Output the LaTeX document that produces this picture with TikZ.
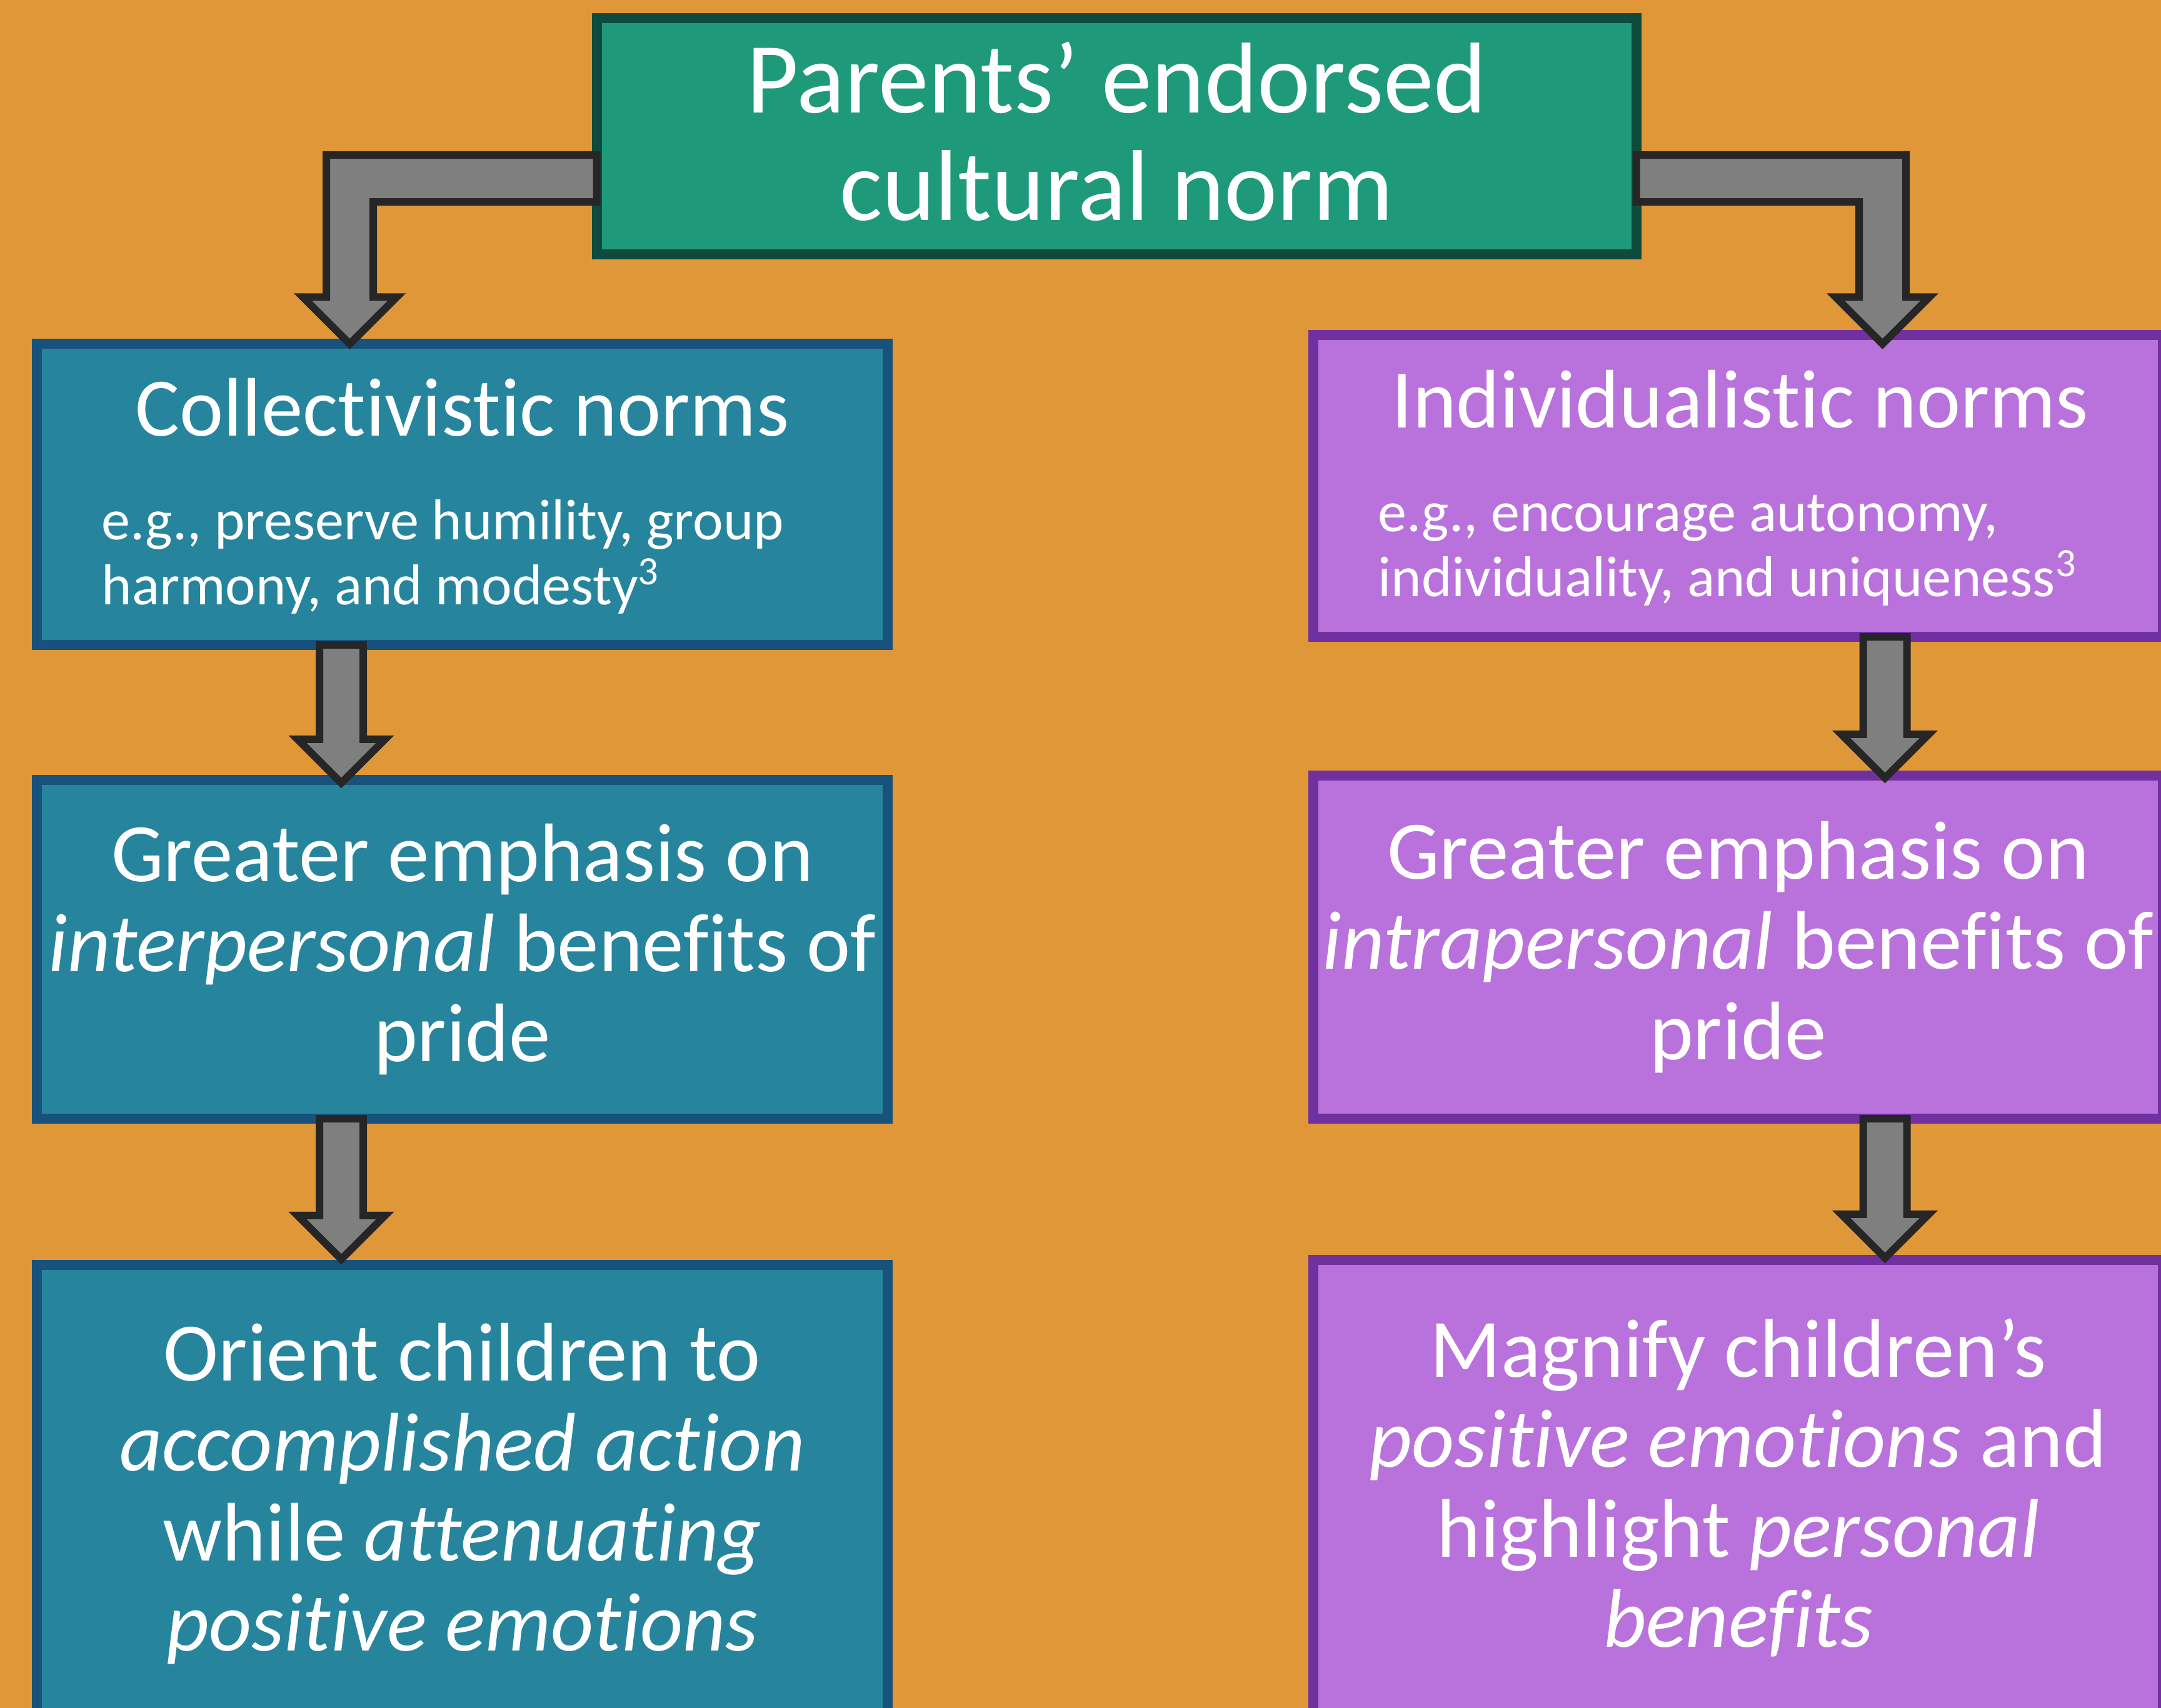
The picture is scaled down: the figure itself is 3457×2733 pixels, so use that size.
\documentclass[tikz,border=0pt]{standalone}
\usepackage{fontspec}
\setmainfont[Ligatures=NoCommon]{Carlito}
\usetikzlibrary{calc}

\definecolor{bgorange}{HTML}{E09738}
\definecolor{topfill}{HTML}{1E9A7A}
\definecolor{topline}{HTML}{0E4B3C}
\definecolor{collfill}{HTML}{26859D}
\definecolor{collline}{HTML}{17527D}
\definecolor{indivfill}{HTML}{B972DB}
\definecolor{indivline}{HTML}{7030A0}
\definecolor{arrowfill}{HTML}{7F7F7F}
\definecolor{arrowline}{HTML}{262626}

\tikzset{
  box/.style={draw, line width=1.6mm, inner sep=0pt, outer sep=0pt, text=white, align=center,
    font=\fontsize{37.8}{41}\selectfont},
  topbox/.style={box, fill=topfill, draw=topline, font=\fontsize{45.8}{48.9}\selectfont},
  collbox/.style={box, fill=collfill, draw=collline, minimum width=136.1mm},
  indivbox/.style={box, fill=indivfill, draw=indivline, minimum width=135.9mm},
  headtext/.style={text=white, inner sep=0pt, anchor=base, font=\fontsize{37.8}{41}\selectfont},
  extext/.style={text=white, inner sep=0pt, anchor=base west, align=left, font=\fontsize{26.2}{29.3}\selectfont},
  blockarrow/.style={draw=arrowline, fill=arrowfill, line width=1.2mm},
}

\begin{document}
\begin{tikzpicture}[x=0.01cm, y=-0.01cm]
    % background
    \useasboundingbox (0,0) rectangle (3457,2733);
    \fill[bgorange] (0,0) rectangle (3457,2733);
    % boxes
    \node[topbox, minimum width=166.2mm, minimum height=37.8mm, text depth=1.7mm] (top) at (1786,218) {Parents’ endorsed\\cultural norm};
    \node[collbox, minimum height=48.2mm] (coll) at (739.5,791) {};
    \node[collbox, minimum height=54.2mm] (lgreat) at (739.5,1519) {Greater emphasis on\\\textit{interpersonal} benefits of\\pride};
    \node[collbox, minimum height=73.2mm] (lorient) at (739.5,2390) {Orient children to\\\textit{accomplished action}\\while \textit{attenuating}\\\textit{positive emotions}};
    \node[indivbox, minimum height=48.3mm] (indiv) at (2780.5,777.5) {};
    \node[indivbox, minimum height=54.9mm] (rgreat) at (2780.5,1515.5) {Greater emphasis on\\\textit{intrapersonal} benefits of\\pride};
    \node[indivbox, minimum height=72.9mm] (rmagnify) at (2780.5,2380.5) {Magnify children’s\\\textit{positive emotions} and\\highlight \textit{personal}\\\textit{benefits}};
    % texts of the norm boxes (base = last line)
    \node[headtext] (collhead) at (739.5,697) {Collectivistic norms};
    \node[extext] (collex) at (162,967) {e.g., preserve humility, group\\harmony, and modesty\textsuperscript{3}};
    \node[headtext] (indivhead) at (2784,684) {Individualistic norms};
    \node[extext] (indivex) at (2204,954) {e.g., encourage autonomy,\\individuality, and uniqueness\textsuperscript{3}};
    % arrow axes
    \coordinate (lmid) at (546,0);
    \coordinate (rmid) at (3015.5,0);
    \coordinate (lbend) at (559.5,285.5);
    \coordinate (rbend) at (3011.5,285.5);
    % elbow arrows
    \draw[blockarrow] ($(top.west |- lbend)+(0,-37.5)$) -- ($(lbend)+(-37.5,-37.5)$)
        -- ($(lbend |- coll.north)+(-37.5,-74.5)$) -- ++(-37.5,0) -- ($(lbend |- coll.north)+(0,0.5)$)
        -- ($(lbend |- coll.north)+(75,-74.5)$) -- ++(-37.5,0) -- ($(lbend)+(37.5,37.5)$)
        -- ($(top.west |- lbend)+(0,37.5)$) -- cycle;
    \draw[blockarrow] ($(top.east |- rbend)+(0,-37.5)$) -- ($(rbend)+(37.5,-37.5)$)
        -- ($(rbend |- indiv.north)+(37.5,-60.5)$) -- ++(37.5,0) -- ($(rbend |- indiv.north)+(0,14.5)$)
        -- ($(rbend |- indiv.north)+(-75,-60.5)$) -- ++(37.5,0) -- ($(rbend)+(-37.5,37.5)$)
        -- ($(top.east |- rbend)+(0,37.5)$) -- cycle;
    % straight arrows
    \foreach \ax/\from/\to/\off in {lmid/coll/lgreat/5, lmid/lgreat/lorient/-9, rmid/indiv/rgreat/4, rmid/rgreat/rmagnify/-3}{
        \draw[blockarrow] ($(\ax |- \from.south)+(-35,0)$) -- ($(\ax |- \to.north)+(-35,\off-70)$)
            -- ++(-35,0) -- ($(\ax |- \to.north)+(0,\off)$) -- ($(\ax |- \to.north)+(70,\off-70)$)
            -- ++(-35,0) -- ($(\ax |- \from.south)+(35,0)$) -- cycle;
    }
\end{tikzpicture}
\end{document}
